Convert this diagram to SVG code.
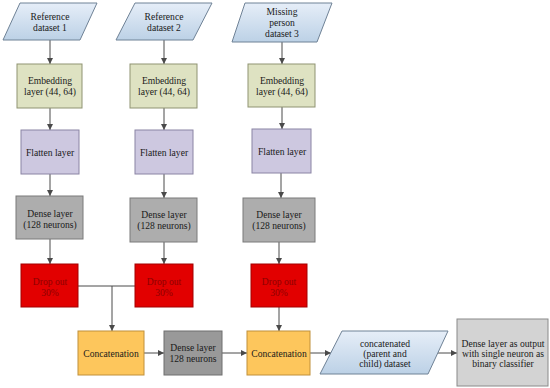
<svg xmlns="http://www.w3.org/2000/svg" width="550" height="388" viewBox="0 0 550 388" font-family="'Liberation Serif','Times New Roman',serif">
<defs>
<linearGradient id="gBlue" x1="0" y1="0" x2="0" y2="1"><stop offset="0" stop-color="#e6eef8"/><stop offset="1" stop-color="#bcd1e6"/></linearGradient>
<marker id="ah" viewBox="0 0 10 10" refX="10" refY="5" markerWidth="6" markerHeight="6" orient="auto" markerUnits="userSpaceOnUse"><path d="M0,0 L10,5 L0,10 z" fill="#4a4a4a"/></marker>
<style>
text{font-family:"Liberation Serif","Times New Roman",serif;font-size:9.6px;fill:#1a1a1a;text-anchor:middle}
.para{fill:url(#gBlue);stroke:#6f8296;stroke-width:1}
.emb{fill:#dee2c2;stroke:#8f9372;stroke-width:1}
.flat{fill:#cdc8e0;stroke:#8a84a4;stroke-width:1}
.dense{fill:#adadad;stroke:#7a7a7a;stroke-width:1}
.drop{fill:#e20000;stroke:#a40000;stroke-width:1}
text.dt{fill:#8c0000}
.concat{fill:#fdc65c;stroke:#c0903a;stroke-width:1}
.dense2{fill:#999999;stroke:#6f6f6f;stroke-width:1}
.final{fill:#d3d3d3;stroke:#8a8a8a;stroke-width:1}
.conn{stroke:#4a4a4a;stroke-width:1;fill:none}
.arr{marker-end:url(#ah)}
</style>
</defs>
<rect width="550" height="388" fill="#ffffff"/>

<g id="connectors">
<line class="conn arr" x1="50" y1="40" x2="50" y2="64"/>
<line class="conn arr" x1="164" y1="40" x2="164" y2="64"/>
<line class="conn arr" x1="282" y1="42" x2="282" y2="64"/>
<line class="conn arr" x1="50" y1="108" x2="50" y2="130"/>
<line class="conn arr" x1="164" y1="108" x2="164" y2="130"/>
<line class="conn arr" x1="282" y1="107" x2="282" y2="129"/>
<line class="conn arr" x1="50" y1="174" x2="50" y2="196"/>
<line class="conn arr" x1="164" y1="174" x2="164" y2="198"/>
<line class="conn arr" x1="281" y1="173" x2="281" y2="198"/>
<line class="conn arr" x1="50" y1="239" x2="50" y2="264"/>
<line class="conn arr" x1="164" y1="242" x2="164" y2="264"/>
<line class="conn arr" x1="279" y1="242" x2="279" y2="264"/>
<line class="conn" x1="78" y1="286" x2="135" y2="286"/>
<line class="conn arr" x1="112" y1="286" x2="112" y2="331"/>
<line class="conn arr" x1="279" y1="307" x2="279" y2="331"/>
<line class="conn arr" x1="144" y1="353" x2="164" y2="353"/>
<line class="conn arr" x1="222" y1="353" x2="247" y2="353"/>
<line class="conn arr" x1="310" y1="353" x2="331" y2="353"/>
<line class="conn arr" x1="438" y1="353" x2="457" y2="353"/>
</g>

<g id="ref1">
<polygon class="para" points="20,3 97,3 80,40 3,40"/>
<text x="50" y="19.5">Reference</text>
<text x="50" y="30.5">dataset 1</text>
</g>
<g id="ref2">
<polygon class="para" points="135,3 212,3 193,40 116,40"/>
<text x="164" y="19.5">Reference</text>
<text x="164" y="30.5">dataset 2</text>
</g>
<g id="ref3">
<polygon class="para" points="245,3 332,3 317,42 232,42"/>
<text x="282" y="14.5">Missing</text>
<text x="282" y="25.5">person</text>
<text x="282" y="36.5">dataset 3</text>
</g>

<g id="emb1"><rect class="emb" x="17" y="64" width="65" height="44"/><text x="50" y="83.5">Embedding</text><text x="50" y="94.5">layer (44, 64)</text></g>
<g id="emb2"><rect class="emb" x="130" y="64" width="67" height="44"/><text x="164" y="83.5">Embedding</text><text x="164" y="94.5">layer (44, 64)</text></g>
<g id="emb3"><rect class="emb" x="248" y="64" width="67" height="43"/><text x="282" y="83.5">Embedding</text><text x="282" y="94.5">layer (44, 64)</text></g>

<g id="flat1"><rect class="flat" x="21" y="130" width="58" height="44"/><text x="50" y="155.5">Flatten layer</text></g>
<g id="flat2"><rect class="flat" x="135" y="130" width="58" height="44"/><text x="164" y="155.5">Flatten layer</text></g>
<g id="flat3"><rect class="flat" x="252" y="129" width="59" height="44"/><text x="282" y="154.5">Flatten layer</text></g>

<g id="dense1"><rect class="dense" x="16" y="196" width="67" height="43"/><text x="50" y="216.5">Dense layer</text><text x="50" y="227.5">(128 neurons)</text></g>
<g id="dense2"><rect class="dense" x="130" y="198" width="67" height="44"/><text x="164" y="217.5">Dense layer</text><text x="164" y="229">(128 neurons)</text></g>
<g id="dense3"><rect class="dense" x="243" y="198" width="72" height="44"/><text x="279" y="217.5">Dense layer</text><text x="279" y="229">(128 neurons)</text></g>

<g id="drop1"><rect class="drop" x="21" y="264" width="57" height="43"/><text class="dt" x="50" y="284.5">Drop out</text><text class="dt" x="50" y="295.5">30%</text></g>
<g id="drop2"><rect class="drop" x="135" y="264" width="58" height="43"/><text class="dt" x="164" y="284.5">Drop out</text><text class="dt" x="164" y="295.5">30%</text></g>
<g id="drop3"><rect class="drop" x="251" y="264" width="56" height="43"/><text class="dt" x="279" y="284.5">Drop out</text><text class="dt" x="279" y="295.5">30%</text></g>

<g id="concat1"><rect class="concat" x="78" y="331" width="66" height="44"/><text x="111" y="356.5">Concatenation</text></g>
<g id="dense128"><rect class="dense2" x="164" y="331" width="58" height="44"/><text x="193" y="350.5">Dense layer</text><text x="193" y="362">128 neurons</text></g>
<g id="concat2"><rect class="concat" x="247" y="331" width="63" height="44"/><text x="279" y="356.5">Concatenation</text></g>
<g id="concatData"><polygon class="para" points="342,331 448,331 428,374 320,374"/><text x="385" y="346.5">concatenated</text><text x="385" y="356.5">(parent and</text><text x="385" y="366.5">child) dataset</text></g>
<g id="output"><rect class="final" x="457" y="319" width="91" height="67"/><text x="503" y="346.5">Dense layer as output</text><text x="503" y="356.5">with single neuron as</text><text x="503" y="366.5">binary classifier</text></g>
</svg>
